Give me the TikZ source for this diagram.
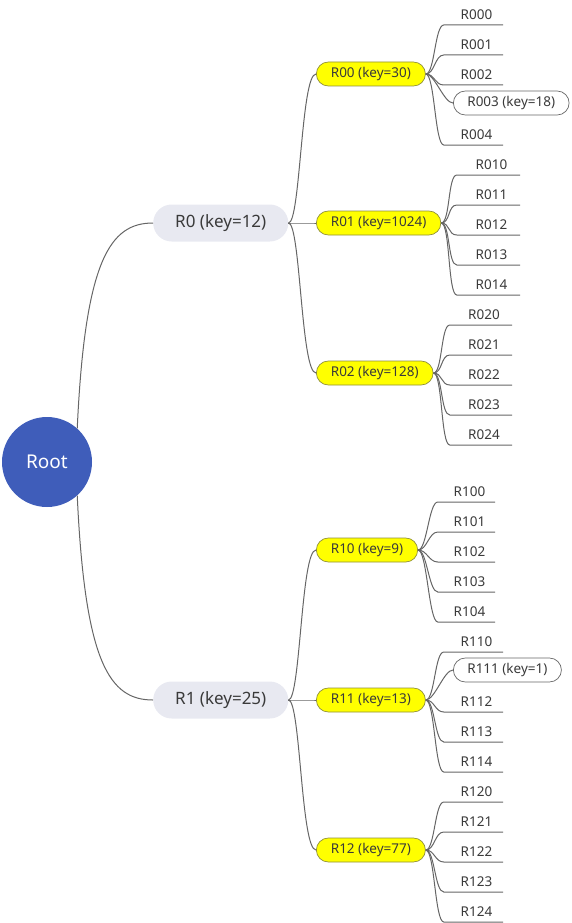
\documentclass[tikz,border=0pt]{standalone}
\usepackage{fontspec}
\setmainfont{Noto Sans}
\usetikzlibrary{positioning}
\definecolor{mapink}{HTML}{3A3A3A}
\definecolor{mapline}{HTML}{666666}
\definecolor{rootblue}{HTML}{3F5DBA}
\definecolor{mainfill}{HTML}{E8E9F1}
\definecolor{subfill}{HTML}{FFFF00}
\definecolor{subedge}{HTML}{8F8F3A}

\begin{document}
\begin{tikzpicture}[
  x=1pt,
  y=-1pt,
  every node/.style={text=mapink},
  link/.style={mapline, line width=1pt},
  rootnode/.style={circle, fill=rootblue, minimum size=90pt, inner sep=0pt,
    text=white, font=\fontsize{19}{22}\selectfont},
  mainnode/.style={rectangle, rounded corners=18.5pt, fill=mainfill,
    minimum height=37pt, inner xsep=22pt, anchor=west,
    font=\fontsize{17}{20}\selectfont},
  subnode/.style={rectangle, rounded corners=12pt, fill=subfill, draw=subedge,
    line width=0.7pt, minimum height=24pt, inner xsep=14.5pt, anchor=west,
    font=\fontsize{13.5}{16}\selectfont},
  keyleaf/.style={rectangle, rounded corners=12pt, fill=white, draw=mapline,
    line width=0.7pt, minimum height=24pt, inner xsep=14pt, anchor=west,
    font=\fontsize{13.5}{16}\selectfont},
  leaf/.style={minimum width=#1, inner xsep=0pt, inner ysep=5pt, anchor=south,
    text height=9.5pt, text depth=0pt, font=\fontsize{13.5}{16}\selectfont,
    execute at begin node=\hspace{6pt}}
]
  \useasboundingbox (0,0) rectangle (571,923);

  % ================= root and the two main branches ======================
  \node[rootnode] (root) at (47,462) {Root};
  \node[mainnode] (r0) at (153,223) {R0 (key=12)};
  \node[mainnode] (r1) at (153,700) {R1 (key=25)};

  \draw[link] (root.48) .. controls (85,260) and (110,223) .. (r0.west);
  \draw[link] (root.-48) .. controls (85,664) and (110,700) .. (r1.west);

  % ================= second level (yellow) ================================
  \node[subnode] (r00) at (316,74)  {R00 (key=30)};
  \node[subnode] (r01) at (316,223) {R01 (key=1024)};
  \node[subnode] (r02) at (316,373) {R02 (key=128)};
  \node[subnode] (r10) at (316,550) {R10 (key=9)};
  \node[subnode] (r11) at (316,700) {R11 (key=13)};
  \node[subnode] (r12) at (316,850) {R12 (key=77)};

  \foreach \s in {r00, r01, r02}
    \draw[link] (r0.east) .. controls +(12,0) and +(-15,0) .. (\s.west);
  \foreach \s in {r10, r11, r12}
    \draw[link] (r1.east) .. controls +(12,0) and +(-15,0) .. (\s.west);

  % ================= leaves under R0 ======================================
  \foreach \n/\y in {000/25, 001/55, 002/85, 004/145} {
    \node[leaf=59pt] (r\n) at (473.5,\y) {R\n};
    \draw[link] (r00.east) .. controls +(9,0) and +(-9,0) .. (r\n.south west)
      -- (r\n.south east);
  }
  \node[keyleaf] (r003) at (453,103) {R003 (key=18)};
  \draw[link] (r00.east) .. controls +(9,0) and +(-9,0) .. (r003.west);

  \foreach \n/\y in {010/175, 011/205, 012/235, 013/265, 014/295} {
    \node[leaf=63pt] (r\n) at (488.5,\y) {R\n};
    \draw[link] (r01.east) .. controls +(9,0) and +(-9,0) .. (r\n.south west)
      -- (r\n.south east);
  }

  \foreach \n/\y in {020/325, 021/355, 022/385, 023/415, 024/445} {
    \node[leaf=62pt] (r\n) at (481,\y) {R\n};
    \draw[link] (r02.east) .. controls +(9,0) and +(-9,0) .. (r\n.south west)
      -- (r\n.south east);
  }

  % ================= leaves under R1 ======================================
  \foreach \n/\y in {100/502, 101/532, 102/562, 103/592, 104/622} {
    \node[leaf=57pt] (r\n) at (466.5,\y) {R\n};
    \draw[link] (r10.east) .. controls +(9,0) and +(-9,0) .. (r\n.south west)
      -- (r\n.south east);
  }

  \foreach \n/\y in {110/652, 112/712, 113/742, 114/772} {
    \node[leaf=59pt] (r\n) at (473.5,\y) {R\n};
    \draw[link] (r11.east) .. controls +(9,0) and +(-9,0) .. (r\n.south west)
      -- (r\n.south east);
  }
  \node[keyleaf] (r111) at (453,670) {R111 (key=1)};
  \draw[link] (r11.east) .. controls +(9,0) and +(-9,0) .. (r111.west);

  \foreach \n/\y in {120/802, 121/832, 122/862, 123/892, 124/922} {
    \node[leaf=59pt] (r\n) at (473.5,\y) {R\n};
    \draw[link] (r12.east) .. controls +(9,0) and +(-9,0) .. (r\n.south west)
      -- (r\n.south east);
  }
\end{tikzpicture}
\end{document}
